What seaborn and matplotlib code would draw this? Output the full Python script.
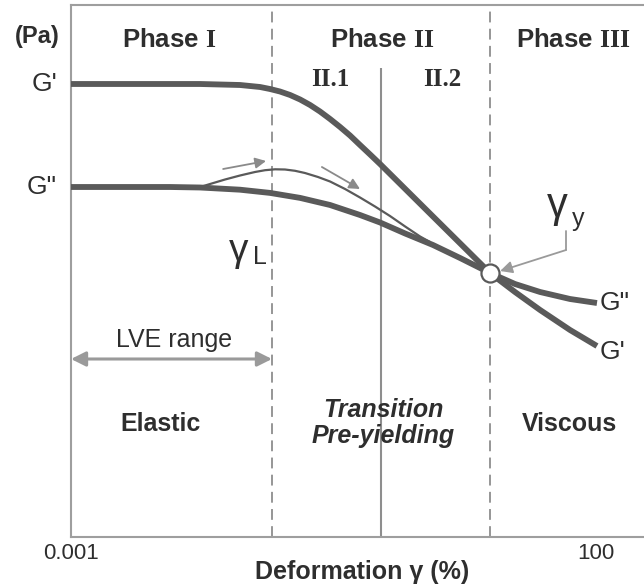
import matplotlib
matplotlib.use("Agg")
import matplotlib.pyplot as plt
import pandas as pd
import seaborn as sns

# ---------------- data ----------------
# storage modulus G' (deformation in %, modulus in arbitrary units)
strain_gp = [0.001, 0.01, 0.01695, 0.0407, 0.0631, 0.0785, 0.0977, 0.122, 0.152, 0.189,
             0.235, 0.293, 0.365, 0.454, 0.565, 0.705, 0.877, 2.80, 9.78, 16.9,
             29.3, 56.5, 102]
gp = [91.2, 91.2, 91.2, 91.0, 90.6, 90.2, 89.7, 89.0, 88.1, 87.0,
      85.7, 84.2, 82.6, 80.9, 79.0, 77.1, 75.2, 64.7, 53.4, 49.6,
      46.0, 42.0, 38.8]

# loss modulus G''
strain_gpp = [0.001, 0.00877, 0.01695, 0.0407, 0.0785, 0.152, 0.293, 0.565, 0.877, 1.52,
              2.80, 5.07, 9.78, 16.9, 29.3, 56.5, 102]
gpp = [70.6, 70.6, 70.5, 70.06, 69.42, 68.42, 67.0, 65.0, 63.5, 61.3,
       59.0, 56.4, 53.4, 51.2, 49.6, 48.2, 47.4]

# thin G'' overshoot curve
strain_thin = [0.0158, 0.0211, 0.0293, 0.0407, 0.0565, 0.0705, 0.0877, 0.109, 0.136,
               0.169, 0.225, 0.293, 0.407, 0.565, 0.785, 1.09, 1.52, 2.11, 2.62]
thin = [70.4, 71.2, 72.1, 72.9, 73.6, 73.96, 74.14, 74.1, 73.84,
        73.4, 72.6, 71.7, 70.2, 68.5, 66.7, 64.8, 62.7, 60.7, 59.6]

gamma_L = 0.082          # limit of LVE range
gamma_sub = 0.9          # boundary II.1 / II.2
gamma_y = 9.78           # yield point (crossover)
crossover_modulus = 53.4
lve_level = 36.2

x_ticks = [0.001, 100]
x_ticklabels = ["0.001", "100"]
phase_titles = [r"Phase $\mathbf{I}$", r"Phase $\mathbf{II}$", r"Phase $\mathbf{III}$"]
sub_titles = ["II.1", "II.2"]
region_titles = ["Elastic", "Transition\nPre-yielding", "Viscous"]

# ---------------- style ----------------
sns.set_theme(style="white")
plt.rcParams["font.family"] = ["Liberation Sans", "DejaVu Sans"]
plt.rcParams["mathtext.fontset"] = "custom"
plt.rcParams["mathtext.bf"] = "Liberation Serif:bold"
plt.rcParams["mathtext.rm"] = "Liberation Sans"

W, H = 644, 584
TXT = "#2e2e2e"
CURVE = "#5a5a5a"
GRID = "#8e8e8e"
SPINE = "#9e9e9e"

fig = plt.figure(figsize=(W / 100, H / 100), dpi=100)
fig.patch.set_facecolor("white")
ax = fig.add_axes([71 / W, (H - 537) / H, (W - 71) / W, (537 - 5) / H])
ax.set_xscale("log")
ax.set_xlim(0.001, 286)
ax.set_ylim(0.6, 107)

def fpos(x, y):
    return x / W, 1 - y / H

# curves
df_gp = pd.DataFrame({"strain": strain_gp, "modulus": gp})
df_gpp = pd.DataFrame({"strain": strain_gpp, "modulus": gpp})
df_thin = pd.DataFrame({"strain": strain_thin, "modulus": thin})
sns.lineplot(data=df_gp, x="strain", y="modulus", ax=ax, color=CURVE, lw=4.2,
             sort=False, estimator=None, solid_capstyle="butt",
             solid_joinstyle="round", zorder=4)
sns.lineplot(data=df_gpp, x="strain", y="modulus", ax=ax, color=CURVE, lw=4.2,
             sort=False, estimator=None, solid_capstyle="butt",
             solid_joinstyle="round", zorder=4)
sns.lineplot(data=df_thin, x="strain", y="modulus", ax=ax, color=CURVE, lw=1.6,
             sort=False, estimator=None, solid_joinstyle="round", zorder=3)

# phase boundaries
for xb in (gamma_L, gamma_y):
    ax.axvline(xb, color=GRID, lw=1.3, ls=(0, (6, 3.5)), zorder=1)
ax.vlines(gamma_sub, 0.6, 94.4, color=GRID, lw=1.5, zorder=1)

# crossover marker
ax.plot([gamma_y], [crossover_modulus], "o", ms=13, mfc="white", mec=CURVE,
        mew=1.6, zorder=6)

# small direction arrows
arrow_kw = dict(arrowstyle="-|>", color="#8a8a8a", lw=1.3, mutation_scale=16,
                shrinkA=0, shrinkB=0)
ax.annotate("", xy=(0.0720, 75.8), xytext=(0.0281, 74.2), arrowprops=arrow_kw)
ax.annotate("", xy=(0.565, 70.2), xytext=(0.245, 74.6), arrowprops=arrow_kw)

# yield point pointer
ax.plot([51.8, 51.8], [61.8, 58.0], color="#9a9a9a", lw=1.3, zorder=5)
ax.annotate("", xy=(12.2, 53.8), xytext=(51.8, 58.0),
            arrowprops=dict(arrowstyle="-|>", color="#9a9a9a", lw=1.3,
                            mutation_scale=18, shrinkA=0, shrinkB=0), zorder=5)

# LVE range arrow
ax.annotate("", xy=(gamma_L, lve_level), xytext=(0.001, lve_level),
            arrowprops=dict(arrowstyle="<|-|>", color="#9a9a9a", lw=2.2,
                            mutation_scale=22, shrinkA=0, shrinkB=0))

# axes styling
for s in ("left", "bottom", "top"):
    ax.spines[s].set_color(SPINE)
    ax.spines[s].set_linewidth(1.5)
ax.spines["right"].set_visible(False)
ax.set_yticks([])
ax.set_xticks(x_ticks)
ax.set_xticklabels(x_ticklabels)
ax.minorticks_off()
ax.tick_params(axis="x", length=0, pad=4, labelsize=16, labelcolor=TXT)
ax.set_xlabel("Deformation γ (%)", fontsize=18, fontweight="bold", color=TXT)
ax.xaxis.set_label_coords((362 - 71) / (W - 71), -(572 - 537) / 532)
ax.xaxis.label.set_va("center")
ax.set_ylabel("")

# ---------------- texts ----------------
def t(x, y, s, **kw):
    kw.setdefault("ha", "center")
    kw.setdefault("va", "center")
    kw.setdefault("color", TXT)
    fig.text(*fpos(x, y), s, **kw)

t(37, 37, "(Pa)", fontsize=17, fontweight="bold")
t(57, 84, "G'", fontsize=19, ha="right")
t(57, 187, "G\"", fontsize=19, ha="right")
t(600, 303, "G\"", fontsize=19, ha="left")
t(600, 352, "G'", fontsize=19, ha="left")

for (x, s) in zip((169, 382, 573), phase_titles):
    t(x, 40, s, fontsize=18.5, fontweight="bold")
for (x, s) in zip((330, 442), sub_titles):
    t(x, 79, s, fontsize=18, fontweight="bold", family="Liberation Serif")

t(239, 251, "γ", fontsize=28)
t(260, 257, "L", fontsize=18)
t(557, 206, "γ", fontsize=30)
t(578, 219, "y", fontsize=18)

t(174, 340, "LVE range", fontsize=18)
t(160, 424, region_titles[0], fontsize=18, fontweight="bold")
t(383, 423, region_titles[1], fontsize=18, fontweight="bold", fontstyle="italic",
  linespacing=1.15)
t(569, 424, region_titles[2], fontsize=18, fontweight="bold")

fig.savefig("out.png", dpi=100, facecolor="white")
